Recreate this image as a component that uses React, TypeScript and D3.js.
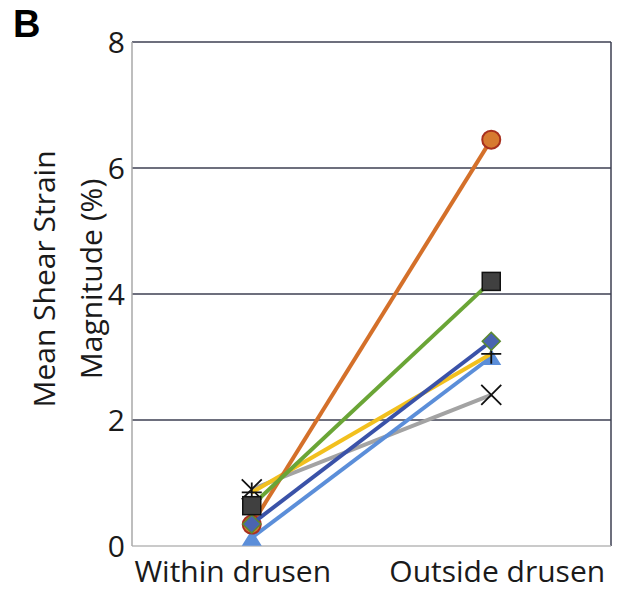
import React, { useEffect, useRef } from "react";
import * as d3 from "d3";

// categorias e séries
const categories = ["Within drusen", "Outside drusen"];
const yTicks = [0, 2, 4, 6, 8];

const gray = [0.9, 2.4];
const lightBlue = [0.13, 3.0];
const yellow = [0.85, 3.05];
const darkBlue = [0.35, 3.25];
const green = [0.64, 4.2];
const orange = [0.34, 6.45];

const series = [
  { name: "gray", values: gray, line: "#a3a3a3", marker: "x", fill: "none", stroke: "#111" },
  { name: "lightBlue", values: lightBlue, line: "#5b8ed9", marker: "triangle", fill: "#5b8ed9", stroke: "#5b8ed9" },
  { name: "yellow", values: yellow, line: "#f2c01e", marker: "plus", fill: "none", stroke: "#111" },
  { name: "orange", values: orange, line: "#d4702a", marker: "circle", fill: "#d77a30", stroke: "#a8301e" },
  { name: "darkBlue", values: darkBlue, line: "#3a52a8", marker: "diamond", fill: "#4a64b0", stroke: "#5b8a2e" },
  { name: "green", values: green, line: "#6aa536", marker: "square", fill: "#404040", stroke: "#111" },
];

// deslocamento horizontal dos rótulos das categorias (como no original)
const labelShift = [-19, 6];

const App = () => {
  const svgRef = useRef(null);

  useEffect(() => {
    const width = 617;
    const height = 591;
    const margin = { top: 42, right: 6, bottom: 45, left: 132 };
    const chartWidth = width - margin.left - margin.right;
    const chartHeight = height - margin.top - margin.bottom;

    const svg = d3.select(svgRef.current).attr("width", width).attr("height", height);
    svg.selectAll("*").remove();

    const font = "'Open Sans', sans-serif";

    const x = d3.scalePoint().domain(categories).range([0, chartWidth]).padding(0.5);
    const y = d3.scaleLinear().domain([0, 8]).range([chartHeight, 0]);

    const chart = svg.append("g").attr("transform", `translate(${margin.left},${margin.top})`);

    // grade
    chart
      .selectAll("line.grid")
      .data(yTicks.filter((t) => t > 0))
      .enter()
      .append("line")
      .attr("x1", 0)
      .attr("x2", chartWidth)
      .attr("y1", (d) => y(d))
      .attr("y2", (d) => y(d))
      .attr("stroke", "#3c3f52")
      .attr("stroke-width", 1.5);

    // borda
    chart.append("line").attr("x1", chartWidth).attr("x2", chartWidth).attr("y1", 0).attr("y2", chartHeight)
      .attr("stroke", "#3c3f52").attr("stroke-width", 1.5);
    chart.append("line").attr("x1", 0).attr("x2", chartWidth).attr("y1", chartHeight).attr("y2", chartHeight)
      .attr("stroke", "#b8b8b8").attr("stroke-width", 1.5);
    chart.append("line").attr("x1", 0).attr("x2", 0).attr("y1", 0).attr("y2", chartHeight)
      .attr("stroke", "#a8a8a8").attr("stroke-width", 1.5);

    // rótulos eixo Y
    chart
      .selectAll("text.ytick")
      .data(yTicks)
      .enter()
      .append("text")
      .attr("x", -7)
      .attr("y", (d) => y(d))
      .attr("dy", "0.36em")
      .attr("text-anchor", "end")
      .style("font-family", font)
      .style("font-size", "30px")
      .style("fill", "#1a1a1a")
      .text((d) => d);

    // rótulos eixo X
    chart
      .selectAll("text.xtick")
      .data(categories)
      .enter()
      .append("text")
      .attr("x", (d, i) => x(d) + labelShift[i])
      .attr("y", chartHeight + 36)
      .attr("text-anchor", "middle")
      .style("font-family", font)
      .style("font-size", "30px")
      .style("fill", "#1a1a1a")
      .text((d) => d);

    // título eixo Y
    const title = svg.append("text")
      .attr("transform", `translate(55, 279) rotate(-90)`)
      .attr("text-anchor", "middle")
      .style("font-family", font)
      .style("font-size", "30px")
      .style("fill", "#1a1a1a");
    title.append("tspan").attr("x", 0).attr("dy", 0).text("Mean Shear Strain");
    title.append("tspan").attr("x", 0).attr("dy", 47).text("Magnitude (%)");

    // letra do painel
    svg.append("text")
      .attr("x", 13)
      .attr("y", 37)
      .style("font-family", "'Liberation Sans', Arial, sans-serif")
      .style("font-weight", "bold")
      .style("font-size", "38px")
      .text("B");

    const line = d3
      .line()
      .x((d, i) => x(categories[i]))
      .y((d) => y(d));

    series.forEach((s) => {
      chart.append("path")
        .datum(s.values)
        .attr("d", line)
        .attr("fill", "none")
        .attr("stroke", s.line)
        .attr("stroke-width", 4);

      s.values.forEach((v, i) => {
        const cx = x(categories[i]);
        const cy = y(v);
        const g = chart.append("g").attr("transform", `translate(${cx},${cy})`);
        if (s.marker === "circle") {
          g.append("circle").attr("r", 9).attr("fill", s.fill).attr("stroke", s.stroke).attr("stroke-width", 2);
        } else if (s.marker === "square") {
          g.append("rect").attr("x", -9).attr("y", -9).attr("width", 18).attr("height", 18)
            .attr("fill", s.fill).attr("stroke", s.stroke).attr("stroke-width", 1.5);
        } else if (s.marker === "diamond") {
          g.append("path").attr("d", "M0,-9L9,0L0,9L-9,0Z")
            .attr("fill", s.fill).attr("stroke", s.stroke).attr("stroke-width", 1.5);
        } else if (s.marker === "triangle") {
          g.append("path").attr("d", "M0,-8L10,8L-10,8Z").attr("fill", s.fill);
        } else if (s.marker === "plus") {
          g.append("path").attr("d", "M-10,0H10M0,-10V10").attr("stroke", s.stroke).attr("stroke-width", 1.8);
        } else if (s.marker === "x") {
          g.append("path").attr("d", "M-10,-10L10,10M10,-10L-10,10").attr("stroke", s.stroke).attr("stroke-width", 1.8);
        }
      });
    });
  }, []);

  return <svg ref={svgRef} style={{ position: "absolute", left: 0, top: 0 }}></svg>;
};

export default App;
